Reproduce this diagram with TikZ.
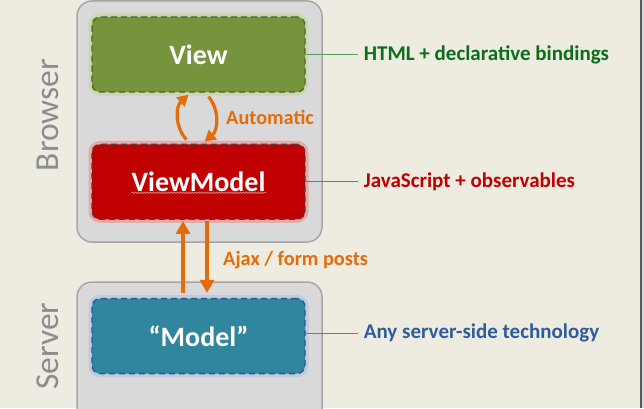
\documentclass[tikz,border=0pt]{standalone}
\usepackage{fontspec}
\setmainfont{Carlito}
\usetikzlibrary{calc}
\usetikzlibrary{arrows.meta}
\usetikzlibrary{positioning}
\usetikzlibrary{decorations.pathmorphing}

\definecolor{paper}{HTML}{EEECE1}
\definecolor{tierfill}{HTML}{D9D9D9}
\definecolor{tierdraw}{HTML}{A6A6A6}
\definecolor{viewfill}{HTML}{77933C}
\definecolor{viewdraw}{HTML}{4F6228}
\definecolor{viewglow}{HTML}{C3D69B}
\definecolor{vmfill}{HTML}{C00000}
\definecolor{vmdraw}{HTML}{5A3A3A}
\definecolor{vmglow}{HTML}{F08C8C}
\definecolor{modelfill}{HTML}{31859C}
\definecolor{modeldraw}{HTML}{2F5597}
\definecolor{modelglow}{HTML}{A9C4E0}
\definecolor{flowcol}{HTML}{E46C0A}
\definecolor{htmlcol}{HTML}{0A6E1A}
\definecolor{jscol}{HTML}{C00000}
\definecolor{servercol}{HTML}{2E5C9E}
\definecolor{tiertext}{HTML}{8C8C8C}

\begin{document}
\begin{tikzpicture}[x=1pt,y=1pt,
    layer/.style={rectangle, rounded corners=8pt, minimum width=213pt,
      minimum height=75pt, draw=#1draw, fill=#1fill, line width=1.3pt,
      dash pattern=on 6pt off 4pt, text=white,
      font=\bfseries\fontsize{28}{32}\selectfont,
      preaction={draw=#1glow, solid, line width=7pt, opacity=0.6}},
    note/.style={anchor=west, inner sep=6pt, font=\bfseries\fontsize{21}{25}\selectfont},
    tier/.style={rotate=90, text=tiertext, font=\fontsize{33.5}{38}\selectfont},
    flow/.style={draw=flowcol, line width=3.2pt, -{Triangle[length=11pt,width=12pt]}},
    flowtext/.style={anchor=west, inner sep=0pt, text=flowcol,
      font=\bfseries\fontsize{20.3}{24}\selectfont}]
  % Constants
  \pgfmathsetmacro\W{644}
  \pgfmathsetmacro\H{408}
  % Boundary
  \path[use as bounding box, fill=paper] (0,0) rectangle (\W,\H);
  \fill[black!65] (640,0) rectangle (642,\H);
  \fill[black!15] (642,0) rectangle (\W,\H);
  % Tiers
  \begin{scope}
    \clip (0,0) rectangle (\W,\H);
    \filldraw[fill=tierfill, draw=tierdraw, line width=1.5pt, rounded corners=15pt]
      (77,166) rectangle (322,407);
    \filldraw[fill=tierfill, draw=tierdraw, line width=1.5pt, rounded corners=15pt]
      (77,-20) rectangle (322,126);
  \end{scope}
  \node[tier] (browser) at (48,293) {Browser};
  \node[tier] (server) at (48,62) {Server};
  % Layers
  \node[layer=view] (view) at (198.5,353.5) {View};
  \node[layer=vm, below=51pt of view] (viewmodel) {ViewModel};
  \node[layer=model, below=78pt of viewmodel] (model) {“Model”};
  \draw[vmglow, line width=0.6pt, decorate,
    decoration={snake, amplitude=0.7pt, segment length=3pt}]
    ([xshift=-67pt,yshift=-11pt]viewmodel.center) -- ([xshift=68pt,yshift=-11pt]viewmodel.center);
  % Notes
  \node[note, text=htmlcol, right=52pt of view] (viewnote) {HTML + declarative bindings};
  \node[note, text=jscol, right=52pt of viewmodel] (vmnote) {JavaScript + observables};
  \node[note, text=servercol, right=52pt of model, yshift=3pt] (modelnote) {Any server-side technology};
  \draw[htmlcol!70, line width=0.8pt] (view.east) -- (viewnote.west);
  \draw[jscol!70, line width=0.8pt] (viewmodel.east) -- (vmnote.west);
  \draw[servercol!80, line width=0.8pt] (model.east |- modelnote.west) -- (modelnote.west);
  % Bindings
  \draw[flow] ([xshift=-12pt,yshift=4pt]viewmodel.north) to[bend left=45] ([xshift=-10pt,yshift=-2pt]view.south);
  \draw[flow] ([xshift=10pt,yshift=-4pt]view.south) to[bend left=45] ([xshift=6pt,yshift=2pt]viewmodel.north);
  \node[flowtext] (autotext) at (226,291) {Automatic};
  % Requests
  \draw[flow, line width=4pt, -{Triangle[length=13pt,width=14pt]}]
    ([xshift=-15.5pt,yshift=5pt]model.north) -- ([xshift=-15.5pt,yshift=-1pt]viewmodel.south);
  \draw[flow, line width=4pt, -{Triangle[length=13pt,width=14pt]}]
    ([xshift=8.5pt,yshift=-1pt]viewmodel.south) -- ([xshift=8.5pt,yshift=5pt]model.north);
  \node[flowtext] (ajaxtext) at (223,148) {Ajax / form posts};
\end{tikzpicture}
\end{document}
